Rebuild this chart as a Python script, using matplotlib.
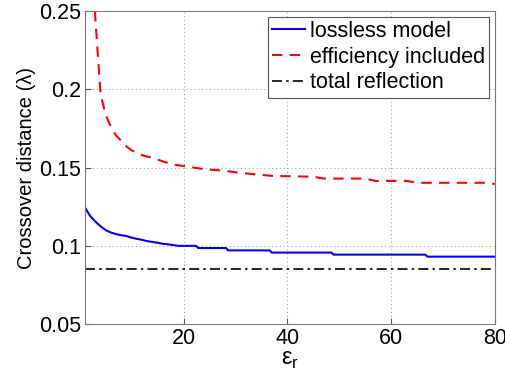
import matplotlib
matplotlib.use("Agg")
import matplotlib.pyplot as plt

plt.rcParams['font.family'] = ['Liberation Sans', 'DejaVu Sans']

blue_x = [1, 2, 3, 4, 5, 6, 7, 8, 9, 10, 11, 12, 13, 14, 15, 16, 17, 18, 19, 20, 22.4,
          22.8, 28.2, 28.6, 36.6, 37.0, 48.5, 48.9, 66.6, 67.0, 80]
blue_y = [0.1245, 0.119, 0.1155, 0.1125, 0.110, 0.1085, 0.1075, 0.1068, 0.1063, 0.1052,
          0.1045, 0.1038, 0.1030, 0.1025, 0.1020, 0.1013, 0.1010, 0.1005, 0.1000, 0.1000,
          0.1000, 0.0986, 0.0986, 0.0971, 0.0971, 0.0957, 0.0957, 0.0944, 0.0944, 0.0931, 0.0931]

red_x = [2.93, 3, 4, 5, 6, 7, 8, 9, 10, 11, 12, 13, 14, 16, 18, 20, 22, 24, 26, 28, 30,
         33, 37, 40, 45, 47, 55, 57, 63, 65, 79, 80]
red_y = [0.25, 0.245, 0.197, 0.1835, 0.176, 0.1705, 0.167, 0.1635, 0.161, 0.1595, 0.158,
         0.157, 0.1563, 0.154, 0.152, 0.151, 0.150, 0.149, 0.1485, 0.148, 0.147, 0.146,
         0.1447, 0.1445, 0.1442, 0.143, 0.143, 0.1415, 0.1415, 0.1403, 0.1403, 0.1394]

refl_x = [1, 80]
refl_y = [0.085, 0.085]

labels = ['lossless model', 'efficiency included', 'total reflection']
x_ticks = [20, 40, 60, 80]
y_ticks = [0.05, 0.1, 0.15, 0.2, 0.25]
y_ticklabels = ['0.05', '0.1', '0.15', '0.2', '0.25']

fig = plt.figure(figsize=(5.06, 3.84), dpi=100)
ax = fig.add_axes([0.168, 0.156, 0.810, 0.815])

ax.plot(blue_x, blue_y, color='#0000ff', lw=1.5, label=labels[0])
ax.plot(red_x, red_y, color='#ff0000', lw=1.5, dashes=(5, 3.5), label=labels[1])
ax.plot(refl_x, refl_y, color='black', lw=1.2, dashes=(6, 2.5, 1.5, 2.5), label=labels[2])

ax.set_xlim(1, 80)
ax.set_ylim(0.05, 0.25)
ax.set_xticks(x_ticks)
ax.set_yticks(y_ticks)
ax.set_yticklabels(y_ticklabels)
ax.grid(True, color='#999999', linestyle=(0, (1, 3)), lw=0.7)
ax.tick_params(direction='in', length=4, labelsize=15.5, color='#555555', pad=3)
for s in ax.spines.values():
    s.set_color('#777777')
    s.set_linewidth(0.8)

ax.set_xlabel('ε$_{\\mathregular{r}}$', fontsize=17, labelpad=0)
ax.set_ylabel('Crossover distance (λ)', fontsize=14.5, labelpad=2)

leg = ax.legend(loc='upper right', fontsize=15.5, fancybox=False, framealpha=1,
                edgecolor='#555555', borderpad=0.2, labelspacing=0.22,
                handlelength=1.5, handletextpad=0.25, borderaxespad=0.25)
leg.get_frame().set_linewidth(0.8)

fig.savefig('out.png', dpi=100)
